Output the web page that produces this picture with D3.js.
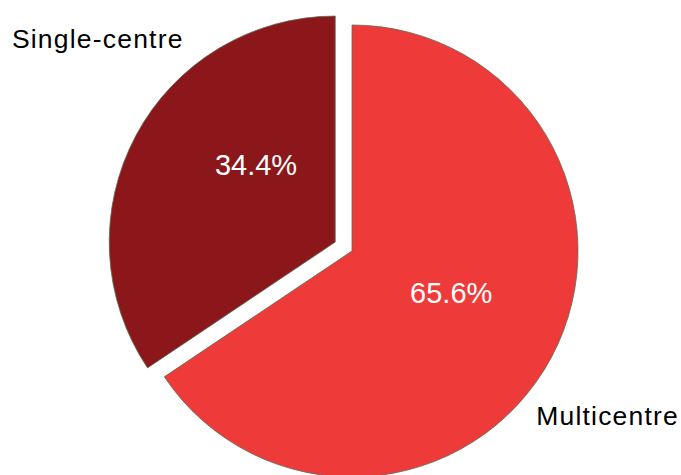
<!DOCTYPE html>
<html>
<head>
<meta charset="utf-8">
<script src="https://cdn.jsdelivr.net/npm/d3@7/dist/d3.min.js"></script>
<style>
  html, body { margin: 0; padding: 0; background: #ffffff; }
  svg { display: block; }
  text { font-family: "Liberation Sans", Arial, Helvetica, sans-serif; }
</style>
</head>
<body>
<svg id="chart" width="681" height="475"></svg>
<script>
// Study design split (percent of studies)
const categories = ["Multicentre", "Single-centre"];
const shares = [65.6, 34.4];
const colors = ["#ee3b3a", "#8b171b"];
const exploded = ["Single-centre"];

const width = 681, height = 475;
const cx = 352, cy = 251, radius = 226, explodeBy = 19;

const svg = d3.select("#chart");
const g = svg.append("g").attr("transform", `translate(${cx},${cy})`);

const color = d3.scaleOrdinal().domain(categories).range(colors);

const pie = d3.pie().sort(null).value(d => d.value);
const arcs = pie(categories.map((c, i) => ({ name: c, value: shares[i] })));

const arc = d3.arc().innerRadius(0).outerRadius(radius);
const labelArc = d3.arc().innerRadius(0).outerRadius(radius * 0.965);

function offset(d) {
  if (!exploded.includes(d.data.name)) return [0, 0];
  const mid = (d.startAngle + d.endAngle) / 2;
  return [Math.sin(mid) * explodeBy, -Math.cos(mid) * explodeBy];
}

const slices = g.selectAll("g.slice")
  .data(arcs)
  .join("g")
  .attr("class", "slice")
  .attr("transform", d => `translate(${offset(d)})`);

slices.append("path")
  .attr("d", arc)
  .attr("fill", d => color(d.data.name))
  .attr("stroke", "#5f6a55")
  .attr("stroke-width", 0.8);

// Percentage labels inside each slice
const pctNudge = { "Multicentre": [3, -10], "Single-centre": [17, -26] };
slices.append("text")
  .attr("transform", d => {
    const [x, y] = labelArc.centroid(d);
    const n = pctNudge[d.data.name];
    return `translate(${x + n[0]},${y + n[1]})`;
  })
  .attr("text-anchor", "middle")
  .attr("dy", "0.36em")
  .attr("fill", "#ffffff")
  .style("font-size", "29px")
  .text(d => d.data.value.toFixed(1) + "%");

// Category labels outside the pie
const outer = {
  "Multicentre": { x: radius * 0.815, y: radius * 0.77, anchor: "start" },
  "Single-centre": { x: -radius * 0.745, y: -radius * 0.90, anchor: "end" }
};
g.selectAll("text.cat")
  .data(arcs)
  .join("text")
  .attr("class", "cat")
  .attr("x", d => outer[d.data.name].x)
  .attr("y", d => outer[d.data.name].y)
  .attr("text-anchor", d => outer[d.data.name].anchor)
  .attr("fill", "#000000")
  .style("font-size", "26.5px")
  .style("letter-spacing", "1.2px")
  .text(d => d.data.name);
</script>
</body>
</html>
